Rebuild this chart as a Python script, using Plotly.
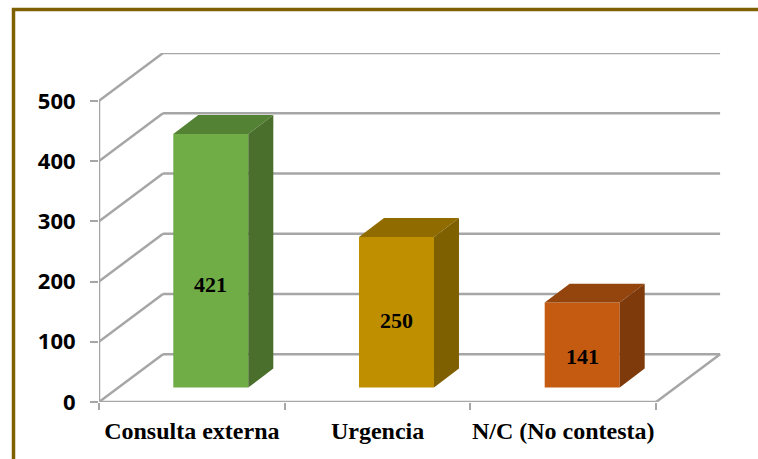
import plotly.graph_objects as go

categories = ["Consulta externa", "Urgencia", "N/C (No contesta)"]
values = [421, 250, 141]
y_ticks = [0, 100, 200, 300, 400, 500]
front_colors = ["#70AD47", "#BF8F00", "#C55A11"]
top_colors = ["#548235", "#8F6B00", "#94440D"]
side_colors = ["#4A6F2C", "#7F6000", "#7E3A0A"]
label_shifts = [-24, -8, -11]

# pixel frame of the floor/wall projection
L, R, T, B = 99.0, 721.0, 52.5, 402.5
W, H = 758, 459
PX_X = 185.7       # pixels per category
PX_Y = 0.604       # pixels per value unit
DX = 64 / PX_X     # depth of the floor, in category units
DY = 48 / PX_Y     # depth of the floor, in value units
BAR_W = 75 / PX_X
BAR_C = 0.602
BAR_BASE = 14.5 / PX_Y
BDX = 25 / PX_X
BDY = 19 / PX_Y
GRID = "#A6A6A6"
N = len(categories)

shapes = []
def seg(x0, y0, x1, y1):
    shapes.append(dict(type="line", xref="x", yref="y", x0=x0, y0=y0, x1=x1, y1=y1,
                       layer="below", line=dict(color=GRID, width=2.5)))

for v in y_ticks:
    seg(0, v, DX, v + DY)
    seg(DX, v + DY, N + DX, v + DY)
seg(0, 0, 0, y_ticks[-1])
seg(0, 0, N, 0)
seg(N, 0, N + DX, DY)

# outer frame, running off the right and bottom of the page
px = lambda p: (p - L) / (R - L)
py = lambda p: (B - p) / (B - T)
shapes.append(dict(type="rect", xref="paper", yref="paper",
                   x0=px(13.5), x1=px(W + 20), y0=py(9), y1=py(H + 20),
                   line=dict(color="#7F6000", width=3.5), layer="below"))

fig = go.Figure()
centers = [i + BAR_C for i in range(N)]
fig.add_trace(go.Bar(x=centers, y=values, base=[BAR_BASE] * N, width=BAR_W,
                     marker=dict(color=front_colors, line=dict(width=0)),
                     hoverinfo="skip", showlegend=False))

for c, v, tc, sc in zip(centers, values, top_colors, side_colors):
    xl, xr = c - BAR_W / 2, c + BAR_W / 2
    y0, y1 = BAR_BASE, BAR_BASE + v
    fig.add_trace(go.Scatter(x=[xl, xr, xr + BDX, xl + BDX, xl],
                             y=[y1, y1, y1 + BDY, y1 + BDY, y1],
                             mode="lines", fill="toself", fillcolor=tc,
                             line=dict(width=0, color=tc), hoverinfo="skip", showlegend=False))
    fig.add_trace(go.Scatter(x=[xr, xr + BDX, xr + BDX, xr, xr],
                             y=[y0, y0 + BDY, y1 + BDY, y1, y0],
                             mode="lines", fill="toself", fillcolor=sc,
                             line=dict(width=0, color=sc), hoverinfo="skip", showlegend=False))

annotations = [dict(x=c, y=BAR_BASE + v / 2, text="<b>%d</b>" % v, showarrow=False, yshift=s,
                    font=dict(family="Liberation Serif", size=22, color="black"))
               for c, v, s in zip(centers, values, label_shifts)]

fig.update_layout(
    width=W, height=H,
    margin=dict(l=L, r=W - R, t=T, b=H - B, pad=0),
    paper_bgcolor="white", plot_bgcolor="white",
    shapes=shapes, annotations=annotations, showlegend=False,
    xaxis=dict(range=[0, (R - L) / PX_X], showgrid=False, zeroline=False, showline=False,
               tickmode="array", tickvals=[i + 0.5 for i in range(N)], ticktext=categories,
               ticks="outside", ticklen=7, tickcolor="rgba(0,0,0,0)",
               tickfont=dict(family="Liberation Serif", size=24, color="black", weight="bold"),
               minor=dict(tickmode="array", tickvals=list(range(N + 1)), ticks="outside",
                          ticklen=7, tickcolor=GRID, tickwidth=1.5, showgrid=False)),
    yaxis=dict(range=[0, (B - T) / PX_Y], showgrid=False, zeroline=False, showline=False,
               tickmode="array", tickvals=y_ticks, ticks="outside", ticklen=8,
               ticklabelstandoff=10,
               tickcolor=GRID, tickwidth=1.5,
               tickfont=dict(family="Open Sans", size=22, color="black", weight="bold")),
)

fig.write_html("out.html", config=dict(displayModeBar=False),
               post_script="document.body.style.margin='0';")
